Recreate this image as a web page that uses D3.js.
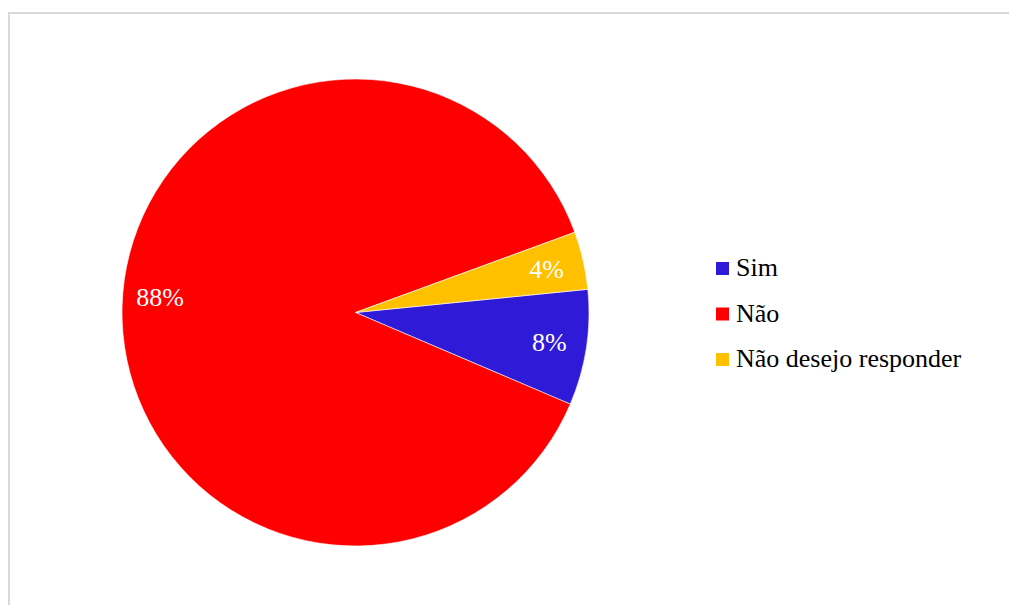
<!DOCTYPE html>
<html>
<head>
<meta charset="utf-8">
<script src="https://cdn.jsdelivr.net/npm/d3@7/dist/d3.min.js"></script>
<style>
  html, body { margin: 0; padding: 0; background: #ffffff; }
  svg { display: block; }
  svg text, .pie-label, .legend-label { font-family: "Liberation Serif", "Times New Roman", serif !important; }
</style>
</head>
<body>
<svg id="pie" width="1009" height="605"></svg>
<script>
// Survey answers (percent of respondents)
const categories = ["Sim", "Não", "Não desejo responder"];
const values = [8, 88, 4];
const colors = ["#2F1AD8", "#FF0000", "#FFC000"];

const SERIF = "'Liberation Serif', 'Times New Roman', serif";
const width = 1009, height = 605;
const svg = d3.select("#pie");

// chart frame
svg.append("rect")
  .attr("x", 9).attr("y", 13)
  .attr("width", width + 10).attr("height", height + 10)
  .attr("fill", "#ffffff")
  .attr("stroke", "#d9d9d9")
  .attr("stroke-width", 2);

const cx = 355.5, cy = 312.5, radius = 233.5;
const startDeg = 84.3;

const data = categories.map((c, i) => ({ category: c, value: values[i], color: colors[i] }));

const pie = d3.pie()
  .value(d => d.value)
  .sort(null)
  .startAngle(startDeg * Math.PI / 180)
  .endAngle((startDeg + 360) * Math.PI / 180);

const arcs = pie(data);
const arc = d3.arc().innerRadius(0).outerRadius(radius);

const g = svg.append("g").attr("transform", `translate(${cx},${cy})`);

g.selectAll("path.slice")
  .data(arcs)
  .join("path")
  .attr("class", "slice")
  .attr("d", arc)
  .attr("fill", d => d.data.color)
  .attr("stroke", "#ffffff")
  .attr("stroke-width", 0.6);

// labels sit near the outer edge of each slice; the large slice's label is
// turned a little further round, as the spreadsheet's best-fit placement does
const labelR = 196;
const labelTurn = d => (d.endAngle - d.startAngle > Math.PI ? 3 * Math.PI / 180 : 0);
const fmt = d3.format(".0f");
g.selectAll("text.pie-label")
  .data(arcs)
  .join("text")
  .attr("class", "pie-label")
  .attr("x", d => labelR * Math.sin((d.startAngle + d.endAngle) / 2 + labelTurn(d)))
  .attr("y", d => -labelR * Math.cos((d.startAngle + d.endAngle) / 2 + labelTurn(d)) + 9)
  .attr("text-anchor", "middle")
  .attr("fill", "#ffffff")
  .attr("font-family", SERIF)
  .style("font-family", SERIF, "important")
  .attr("font-size", 26)
  .text(d => fmt(d.data.value) + "%");

// legend
const legend = svg.append("g").attr("transform", "translate(716,276)");
const row = legend.selectAll("g")
  .data(data)
  .join("g")
  .attr("transform", (d, i) => `translate(0,${i * 45.5})`);

row.append("rect")
  .attr("x", 0).attr("y", -14)
  .attr("width", 13).attr("height", 13)
  .attr("fill", d => d.color);

row.append("text")
  .attr("class", "legend-label")
  .attr("x", 20).attr("y", 0)
  .attr("font-family", SERIF)
  .style("font-family", SERIF, "important")
  .attr("font-size", 26)
  .attr("fill", "#000000")
  .text(d => d.category);
</script>
</body>
</html>
